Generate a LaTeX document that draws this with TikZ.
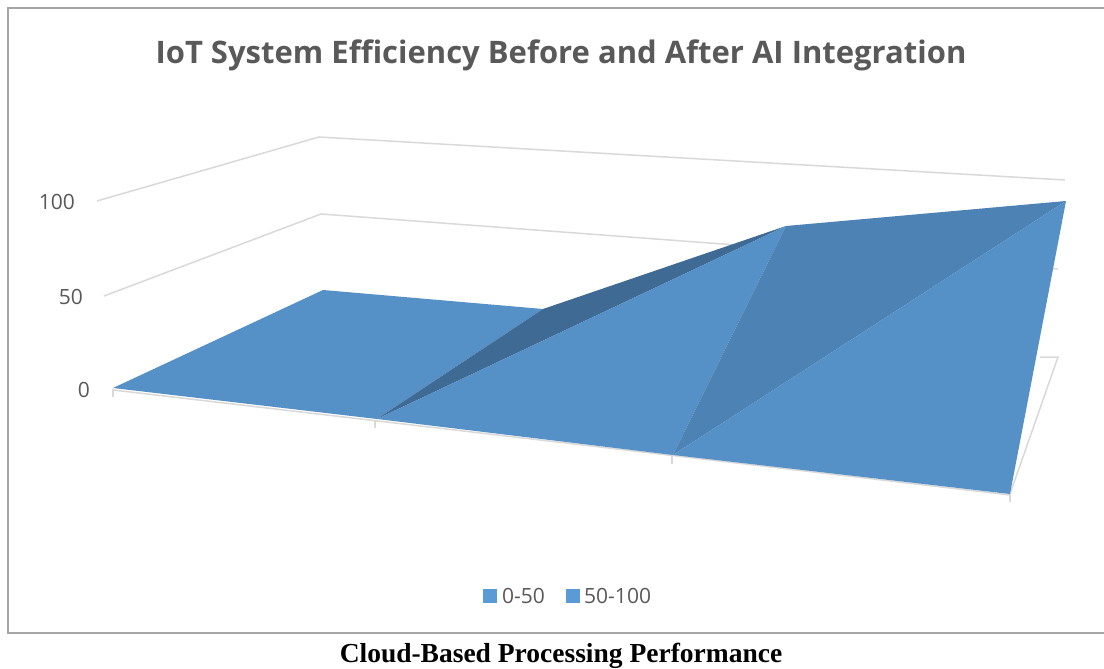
\documentclass[tikz,border=0pt]{standalone}
\usepackage{fontspec}
\setmainfont{Liberation Serif}
\setsansfont{Open Sans}
\definecolor{gridgray}{HTML}{D9D9D9}
\definecolor{textgray}{HTML}{595959}
\definecolor{framegray}{HTML}{A6A6A6}
\definecolor{surflight}{HTML}{5590C7}
\definecolor{surfdark}{HTML}{3E6A94}
\definecolor{surfmid}{HTML}{4C82B4}
\definecolor{legendblue}{HTML}{5B9BD5}

\begin{document}
\begin{tikzpicture}[x=1pt,y=-1pt,
    grid/.style={draw=gridgray,line width=1.5pt},
    axislabel/.style={font=\sffamily\fontsize{21}{21}\selectfont,text=textgray,anchor=east,inner sep=0pt},
    legendtext/.style={font=\sffamily\fontsize{21}{21}\selectfont,text=textgray,anchor=west,inner sep=0pt}]
    \useasboundingbox (0,0) rectangle (1104,669);
    \fill[white] (0,0) rectangle (1104,669);
    \draw[framegray,line width=2pt] (1110,8)--(8,8)--(8,633)--(1110,633);
    % title
    \node[font=\sffamily\bfseries\fontsize{31}{31}\selectfont,text=textgray,anchor=base] (title) at (561,64) {IoT System Efficiency Before and After AI Integration};
    % walls and floor
    \draw[grid] (97,201)--(319,137)--(1065,180);
    \draw[grid] (104,296)--(321,214)--(1058,269);
    \draw[grid] (1040,357)--(1058,357)--(1010,494);
    \draw[grid] (113,390)--(1010,495);
    \foreach \x/\y in {113/389,375/420,672/456,1010/494} \draw[grid] (\x,\y)--(\x,\y+8);
    \node[axislabel] (l100) at (75,202) {100};
    \node[axislabel] (l50) at (83,297) {50};
    \node[axislabel] (l0) at (90,390) {0};
    % surface
    \coordinate (A) at (113,388);
    \coordinate (B) at (323,290);
    \coordinate (F) at (543,309);
    \coordinate (C) at (377,419);
    \coordinate (G) at (786,226);
    \coordinate (D) at (673,455);
    \coordinate (H) at (1066,201);
    \coordinate (E) at (1010,494);
    \fill[surflight] (A)--(B)--(F)--(C)--cycle;
    \fill[surfdark] (C)--(F)--(G)--cycle;
    \fill[surflight] (C)--(G)--(D)--cycle;
    \fill[surfmid] (D)--(G)--(H)--cycle;
    \fill[surflight] (D)--(H)--(E)--cycle;
    % legend
    \fill[legendblue] (483,589) rectangle (497,603);
    \node[legendtext] (leg1) at (502,596) {0-50};
    \fill[legendblue] (566,589) rectangle (580,603);
    \node[legendtext] (leg2) at (584,596) {50-100};
    % caption
    \node[font=\bfseries\fontsize{27.5}{28}\selectfont,anchor=base] (caption) at (561,662) {Cloud-Based Processing Performance};
\end{tikzpicture}
\end{document}
